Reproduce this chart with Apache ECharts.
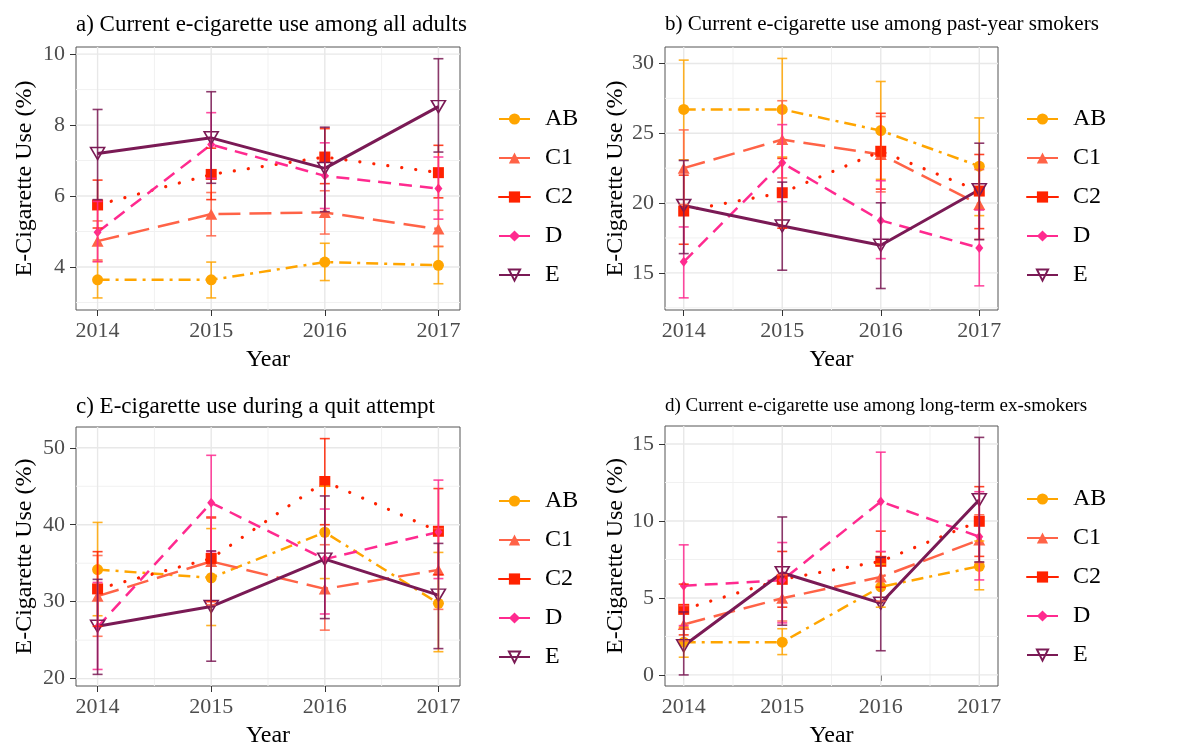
<!DOCTYPE html>
<html>
<head>
<meta charset="utf-8">
<script src="https://cdn.jsdelivr.net/npm/echarts@6/dist/echarts.min.js"></script>
<style>html,body{margin:0;padding:0;background:#fff;}#c{width:1182px;height:749px;}</style>
</head>
<body>
<div id="c"></div>
<script>
// ---------- DATA ----------
const years = [2014, 2015, 2016, 2017];
const seriesNames = ['AB', 'C1', 'C2', 'D', 'E'];
const xMinor = [2014.5, 2015.5, 2016.5];

// panel a) all adults
const a_yTicks = [4, 6, 8, 10];
const a_yMinor = [3, 5, 7, 9];
const a_AB = [3.64, 3.64, 4.14, 4.05];
const a_AB_lo = [3.13, 3.13, 3.62, 3.53];
const a_AB_hi = [4.16, 4.14, 4.67, 4.58];
const a_C1 = [4.73, 5.49, 5.54, 5.07];
const a_C1_lo = [4.20, 4.88, 4.93, 4.58];
const a_C1_hi = [5.30, 6.10, 6.15, 5.60];
const a_C2 = [5.75, 6.61, 7.10, 6.66];
const a_C2_lo = [5.10, 5.90, 6.35, 5.95];
const a_C2_hi = [6.45, 7.35, 7.90, 7.43];
const a_D = [4.98, 7.45, 6.57, 6.21];
const a_D_lo = [4.15, 6.50, 5.65, 5.35];
const a_D_hi = [5.85, 8.35, 7.50, 7.10];
const a_E = [7.20, 7.64, 6.78, 8.52];
const a_E_lo = [5.90, 6.36, 5.56, 7.24];
const a_E_hi = [8.44, 8.94, 7.94, 9.87];

// panel b) past-year smokers
const b_yTicks = [15, 20, 25, 30];
const b_yMinor = [12.5, 17.5, 22.5, 27.5];
const b_AB = [26.71, 26.71, 25.19, 22.64];
const b_AB_lo = [23.10, 23.30, 21.70, 19.10];
const b_AB_hi = [30.24, 30.36, 28.71, 26.10];
const b_C1 = [22.50, 24.55, 23.48, 19.90];
const b_C1_lo = [19.90, 21.80, 20.80, 17.40];
const b_C1_hi = [25.24, 27.33, 26.20, 22.40];
const b_C2 = [19.43, 20.74, 23.71, 20.86];
const b_C2_lo = [17.05, 18.20, 21.00, 18.17];
const b_C2_hi = [22.00, 23.20, 26.43, 23.48];
const b_D = [15.79, 22.88, 18.76, 16.79];
const b_D_lo = [13.21, 20.10, 16.02, 14.07];
const b_D_hi = [18.29, 25.62, 21.60, 19.50];
const b_E = [19.83, 18.36, 16.98, 20.95];
const b_E_lo = [16.38, 15.19, 13.88, 17.38];
const b_E_hi = [23.05, 21.50, 20.02, 24.29];

// panel c) quit attempt
const c_yTicks = [20, 30, 40, 50];
const c_yMinor = [25, 35, 45];
const c_AB = [34.17, 33.11, 39.02, 29.79];
const c_AB_lo = [28.17, 26.90, 33.00, 23.50];
const c_AB_hi = [40.30, 39.50, 45.00, 36.40];
const c_C1 = [30.72, 35.23, 31.66, 34.13];
const c_C1_lo = [25.50, 29.60, 26.30, 29.00];
const c_C1_hi = [36.00, 40.85, 37.40, 39.50];
const c_C2 = [31.66, 35.62, 45.62, 39.15];
const c_C2_lo = [26.80, 30.00, 40.00, 33.50];
const c_C2_hi = [36.50, 41.00, 51.19, 44.70];
const c_D = [26.72, 42.85, 35.53, 39.06];
const c_D_lo = [21.19, 36.50, 28.40, 33.00];
const c_D_hi = [32.50, 49.02, 42.04, 45.80];
const c_E = [26.81, 29.36, 35.53, 30.85];
const c_E_lo = [20.55, 22.26, 27.80, 23.90];
const c_E_hi = [32.90, 36.60, 43.74, 37.57];

// panel d) long-term ex-smokers
const d_yTicks = [0, 5, 10, 15];
const d_yMinor = [2.5, 7.5, 12.5];
const d_AB = [2.13, 2.13, 5.72, 7.06];
const d_AB_lo = [1.15, 1.32, 4.40, 5.53];
const d_AB_hi = [3.10, 3.00, 7.20, 8.70];
const d_C1 = [3.28, 4.98, 6.36, 8.77];
const d_C1_lo = [2.20, 3.50, 4.80, 7.30];
const d_C1_hi = [4.50, 6.50, 8.00, 10.40];
const d_C2 = [4.26, 6.21, 7.38, 9.98];
const d_C2_lo = [2.60, 4.40, 5.70, 7.70];
const d_C2_hi = [5.90, 8.02, 9.34, 12.23];
const d_D = [5.79, 6.15, 11.26, 8.98];
const d_D_lo = [3.20, 3.38, 8.02, 6.17];
const d_D_hi = [8.45, 8.60, 14.47, 11.90];
const d_E = [1.89, 6.64, 4.66, 11.38];
const d_E_lo = [0.00, 3.23, 1.57, 7.34];
const d_E_hi = [4.09, 10.26, 7.64, 15.43];

const titles = [
  'a) Current e-cigarette use among all adults',
  'b) Current e-cigarette use among past-year smokers',
  'c) E-cigarette use during a quit attempt',
  'd) Current e-cigarette use among long-term ex-smokers'
];

// ---------- STYLE ----------
const FONT = '"Liberation Serif", "DejaVu Serif", serif';
const colors = {AB: '#FFA500', C1: '#FF6347', C2: '#FF2200', D: '#FF2A8F', E: '#7A1A55'};
const dash = {AB: [12, 6, 3, 6], C1: [22, 9], C2: [0.1, 14], D: [13, 8], E: 'solid'};
const lineW = {AB: 2.5, C1: 2.5, C2: 3.2, D: 2.5, E: 3};
const symbols = {AB: 'circle', C1: 'triangle', C2: 'rect', D: 'diamond', E: 'triangle'};
const symSize = {AB: 11, C1: [12, 11], C2: 11, D: [8, 10], E: [14, 12]};

const panels = [
  {vals: [a_AB, a_C1, a_C2, a_D, a_E], lo: [a_AB_lo, a_C1_lo, a_C2_lo, a_D_lo, a_E_lo], hi: [a_AB_hi, a_C1_hi, a_C2_hi, a_D_hi, a_E_hi],
   yTicks: a_yTicks, yMinor: a_yMinor, yMin: 2.79, yMax: 10.2,
   grid: {left: 76, top: 47, width: 384, height: 263}, legendLeft: 498, legendTop: 107, yNameGap: 39, titleTop: 13, titleSize: 23},
  {vals: [b_AB, b_C1, b_C2, b_D, b_E], lo: [b_AB_lo, b_C1_lo, b_C2_lo, b_D_lo, b_E_lo], hi: [b_AB_hi, b_C1_hi, b_C2_hi, b_D_hi, b_E_hi],
   yTicks: b_yTicks, yMinor: b_yMinor, yMin: 12.34, yMax: 31.18,
   grid: {left: 665, top: 47, width: 333, height: 263}, legendLeft: 1026, legendTop: 107, yNameGap: 31, titleTop: 14, titleSize: 21},
  {vals: [c_AB, c_C1, c_C2, c_D, c_E], lo: [c_AB_lo, c_C1_lo, c_C2_lo, c_D_lo, c_E_lo], hi: [c_AB_hi, c_C1_hi, c_C2_hi, c_D_hi, c_E_hi],
   yTicks: c_yTicks, yMinor: c_yMinor, yMin: 19.04, yMax: 52.7,
   grid: {left: 76, top: 427, width: 384, height: 264}, legendLeft: 498, legendTop: 489, yNameGap: 39, titleTop: 395, titleSize: 23},
  {vals: [d_AB, d_C1, d_C2, d_D, d_E], lo: [d_AB_lo, d_C1_lo, d_C2_lo, d_D_lo, d_E_lo], hi: [d_AB_hi, d_C1_hi, d_C2_hi, d_D_hi, d_E_hi],
   yTicks: d_yTicks, yMinor: d_yMinor, yMin: -0.72, yMax: 16.17,
   grid: {left: 665, top: 426, width: 333, height: 264}, legendLeft: 1026, legendTop: 487, yNameGap: 31, titleTop: 397, titleSize: 19}
];

const X_MIN = 2013.81, X_MAX = 2017.19;

const option = {
  animation: false,
  backgroundColor: '#fff',
  title: [], grid: [], xAxis: [], yAxis: [], legend: [], series: []
};

function errRender(params, api) {
  const x = api.value(0), lo = api.value(1), hi = api.value(2);
  const p1 = api.coord([x, lo]), p2 = api.coord([x, hi]);
  const w = 5;
  const style = {stroke: api.visual('color'), lineWidth: 1.6, opacity: 0.85};
  return {type: 'group', children: [
    {type: 'line', shape: {x1: p1[0], y1: p1[1], x2: p2[0], y2: p2[1]}, style: style},
    {type: 'line', shape: {x1: p1[0] - w, y1: p1[1], x2: p1[0] + w, y2: p1[1]}, style: style},
    {type: 'line', shape: {x1: p2[0] - w, y1: p2[1], x2: p2[0] + w, y2: p2[1]}, style: style}
  ]};
}

panels.forEach(function (p, i) {
  option.title.push({
    text: titles[i], left: p.grid.left, top: p.titleTop, padding: 0,
    textStyle: {fontFamily: FONT, fontSize: p.titleSize, fontWeight: 'normal', color: '#000'}
  });
  option.grid.push(Object.assign({show: true, borderColor: '#555', borderWidth: 1, backgroundColor: 'transparent', containLabel: false}, p.grid));
  option.xAxis.push({
    type: 'value', gridIndex: i, min: X_MIN, max: X_MAX,
    name: 'Year', nameLocation: 'middle', nameGap: 38,
    nameTextStyle: {fontFamily: FONT, fontSize: 24, color: '#000'},
    axisLine: {show: false},
    axisTick: {show: true, length: 6, customValues: years, lineStyle: {color: '#333', width: 1}},
    axisLabel: {show: true, customValues: years, fontFamily: FONT, fontSize: 22, color: '#4D4D4D', margin: 10,
      formatter: function (v) { return String(Math.round(v)); }},
    splitLine: {show: false}
  });
  option.yAxis.push({
    type: 'value', gridIndex: i, min: p.yMin, max: p.yMax,
    name: 'E-Cigarette Use (%)', nameLocation: 'middle', nameGap: p.yNameGap,
    nameTextStyle: {fontFamily: FONT, fontSize: 24, color: '#000'},
    axisLine: {show: false},
    axisTick: {show: true, length: 6, customValues: p.yTicks, lineStyle: {color: '#333', width: 1}},
    axisLabel: {show: true, customValues: p.yTicks, fontFamily: FONT, fontSize: 22, color: '#4D4D4D', margin: 11,
      formatter: function (v) { return String(Math.round(v * 10) / 10); }},
    splitLine: {show: false}
  });
  option.legend.push({
    orient: 'vertical', left: p.legendLeft, top: p.legendTop, padding: 0,
    itemWidth: 31, itemHeight: 14, itemGap: 15,
    textStyle: {fontFamily: FONT, fontSize: 24, color: '#000', padding: [0, 0, 0, 10]},
    lineStyle: {type: 'solid'},
    data: seriesNames.slice()
  });
  // gridlines
  option.series.push({
    type: 'custom', xAxisIndex: i, yAxisIndex: i, z: 1, silent: true,
    data: [[years[0], p.yTicks[0]]],
    renderItem: function (params, api) {
      const cs = params.coordSys;
      const ch = [];
      const add = function (x1, y1, x2, y2, major) {
        ch.push({type: 'line', shape: {x1: x1, y1: y1, x2: x2, y2: y2},
          style: {stroke: major ? '#E8E8E8' : '#F1F1F1', lineWidth: major ? 1.4 : 1}});
      };
      xMinor.forEach(function (v) { const px = api.coord([v, p.yMin])[0]; add(px, cs.y, px, cs.y + cs.height, false); });
      p.yMinor.forEach(function (v) { const py = api.coord([X_MIN, v])[1]; add(cs.x, py, cs.x + cs.width, py, false); });
      years.forEach(function (v) { const px = api.coord([v, p.yMin])[0]; add(px, cs.y, px, cs.y + cs.height, true); });
      p.yTicks.forEach(function (v) { const py = api.coord([X_MIN, v])[1]; add(cs.x, py, cs.x + cs.width, py, true); });
      return {type: 'group', children: ch};
    }
  });
  // lines + points
  seriesNames.forEach(function (n, k) {
    const col = colors[n];
    const hollow = n === 'E';
    option.series.push({
      name: n, type: 'line', xAxisIndex: i, yAxisIndex: i, z: 3,
      data: years.map(function (y, j) { return [y, p.vals[k][j]]; }),
      symbol: symbols[n], symbolSize: symSize[n], symbolRotate: hollow ? 180 : 0,
      showSymbol: true,
      lineStyle: {color: col, width: lineW[n], type: dash[n], cap: n === 'C2' ? 'round' : 'butt'},
      itemStyle: hollow ? {color: 'rgba(255,255,255,0)', borderColor: col, borderWidth: 1.6} : {color: col},
      emphasis: {disabled: true}
    });
  });
  // error bars
  seriesNames.forEach(function (n, k) {
    option.series.push({
      name: n + '_err', type: 'custom', xAxisIndex: i, yAxisIndex: i, z: 4, silent: true,
      itemStyle: {color: colors[n]},
      encode: {x: 0, y: [1, 2]},
      data: years.map(function (y, j) { return [y, p.lo[k][j], p.hi[k][j]]; }),
      renderItem: errRender
    });
  });
});

const chart = echarts.init(document.getElementById('c'), null, {renderer: 'canvas'});
chart.setOption(option);
</script>
</body>
</html>
